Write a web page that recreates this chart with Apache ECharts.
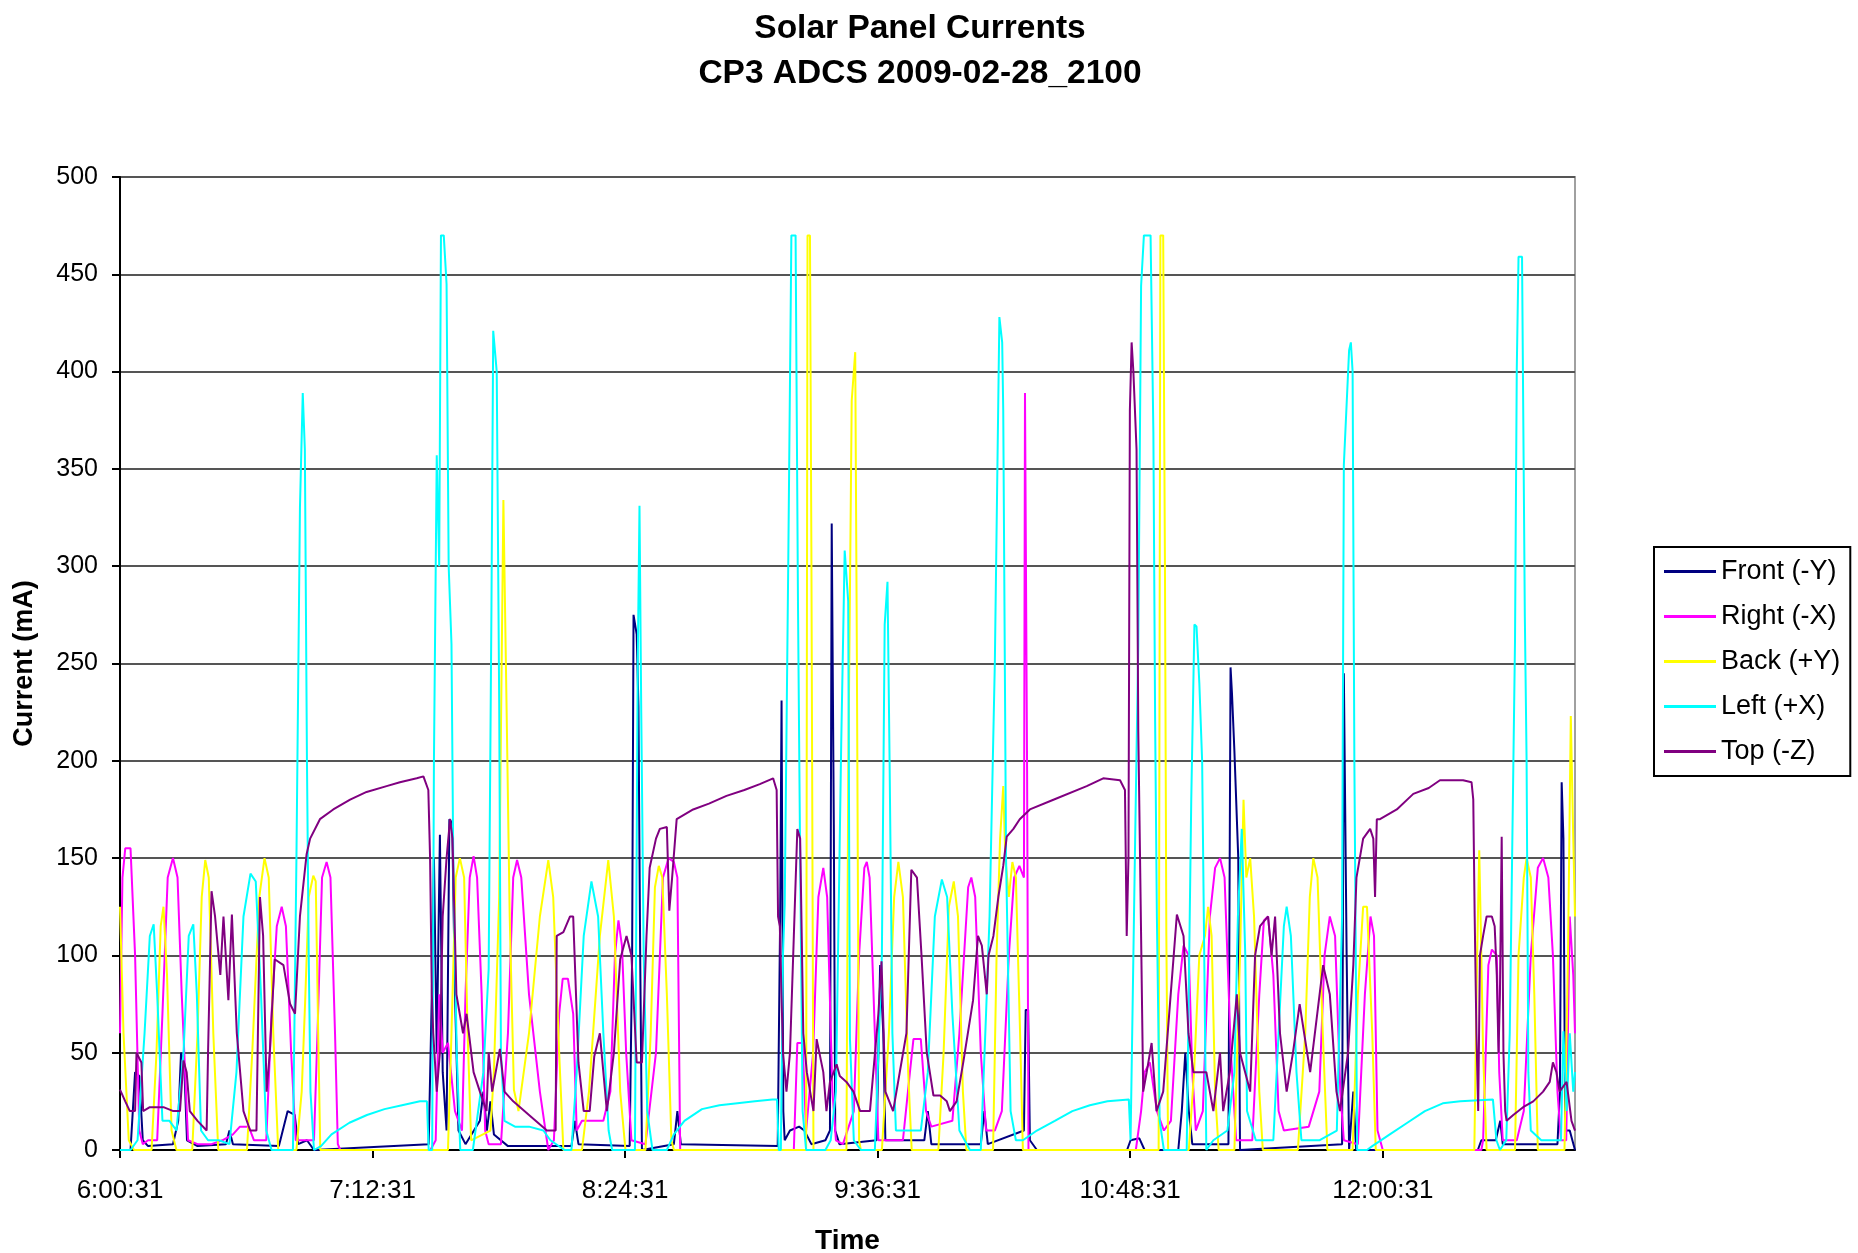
<!DOCTYPE html>
<html>
<head>
<meta charset="utf-8">
<title>Solar Panel Currents</title>
<script src="https://cdn.jsdelivr.net/npm/echarts@6/dist/echarts.min.js"></script>
<style>
  html, body { margin: 0; padding: 0; background: #fff; }
  #chart { width: 1858px; height: 1253px; }
</style>
</head>
<body>
<div id="chart"></div>
<script>
// x = minutes after 6:00:31, y = current (mA)
var timeLabels = ['6:00:31', '7:12:31', '8:24:31', '9:36:31', '10:48:31', '12:00:31'];
var seriesNames = ['Front (-Y)', 'Right (-X)', 'Back (+Y)', 'Left (+X)', 'Top (-Z)'];
var seriesColors = ['#000080', '#ff00ff', '#ffff00', '#00ffff', '#800080'];

var frontY = [
  [0,0],[3,0],[4.3,40],[5.5,38],[6.5,5],[8,2],[15.1,3],[16.6,15],[17.4,50],[18.3,44],[19.1,5],[22.1,2],[30.2,3],[31.2,10],
  [32.2,3],[45.3,2],[47.8,20],[49.8,18],[50.8,3],[53.3,5],[55.3,0],[88,3],[88.9,80],[89.5,150],[90.3,50],[91.2,162],[92,40],
  [93.1,10],[93.9,170],[94.7,168],[95.5,80],[96.5,10],[98.5,3],[102.6,15],[103.6,30],[104.6,10],[105.6,25],[106.6,8],
  [110.6,2],[128.7,2],[129.7,15],[130.7,3],[145.3,2],[146,100],[146.4,275],[147.3,265],[147.8,228],[148.3,100],[148.8,0],
  [157.9,3],[158.9,20],[159.9,3],[187.5,2],[188.2,120],[188.6,231],[189.1,20],[189.5,5],[191,10],[193.6,12],[195.1,10],
  [197.1,3],[201.1,5],[202.4,10],[202.9,322],[203.5,167],[203.9,10],[205.1,3],[215.7,5],[216.7,95],[217.6,60],[218.2,5],
  [229.3,5],[230.3,20],[231.3,3],[245.4,3],[246.4,20],[247.4,3],[257.7,10],[258.2,72],[258.9,72],[259.4,5],[261.4,0],
  [287.1,0],[288.1,5],[290.6,6],[292.1,0],[301.7,0],[302.7,20],[303.7,50],[304.7,20],[305.7,3],[316,3],[316.6,248],
  [317,235],[317.7,205],[318.8,150],[319.3,0],[348.4,3],[348.9,245],[349.7,100],[350.4,0],[351.6,30],[352.4,0],[387.1,0],
  [388.1,5],[392.2,5],[393.5,15],[394.2,3],[409.8,3],[410.5,30],[411,189],[411.5,160],[412,10],[413.3,10],[414.8,0]
];

var rightX = [
  [0,60],[0.7,140],[1.5,155],[3,155],[4.3,100],[5.5,10],[6.5,3],[8,5],[10.6,5],[12.1,70],[13.6,140],[15.1,150],[16.4,140],
  [17.6,80],[19.4,5],[22.1,3],[26.1,3],[29.2,5],[32.2,8],[34.2,12],[36.7,12],[38.2,5],[41.7,5],[43.2,70],[44.7,115],
  [46.1,125],[47.3,115],[48.8,50],[50.1,5],[55.3,5],[56.3,60],[57.6,140],[58.9,148],[60,140],[61.3,60],[62.1,3],[62.8,0],
  [88.5,0],[90,5],[91,80],[92,50],[93.5,55],[95.5,20],[97.5,10],[98.5,80],[99.7,140],[100.8,151],[101.8,140],[103.1,80],
  [104.1,10],[105.1,3],[108.6,3],[110.6,60],[112.1,140],[113.2,149],[114.4,140],[116.6,80],[119.7,30],[122.1,0],[123.7,5],
  [125.2,70],[126.2,88],[127.7,88],[129.2,70],[130.2,10],[131.7,15],[137.8,15],[139.8,30],[141.1,100],[142.1,118],
  [143.1,105],[144.3,50],[145.8,5],[149.8,3],[152.8,50],[154.8,140],[156.4,150],[157.9,148],[158.9,140],[159.7,0],
  [192.1,0],[193.1,55],[194.6,55],[195.6,10],[197.6,50],[199.1,130],[200.5,145],[201.6,130],[203.1,30],[204.1,5],
  [206.1,3],[209.2,20],[210.7,100],[212.2,145],[212.9,148],[213.7,140],[215.2,60],[216.2,5],[223.2,5],[225.2,40],
  [226.2,57],[228.3,57],[229.8,20],[231.3,12],[237.3,15],[239.3,60],[241.8,135],[242.7,140],[243.8,130],[245.4,50],
  [246.9,10],[249.4,10],[251.4,20],[253.4,100],[254.9,140],[256.4,146],[257.7,140],[258,389],[258.6,195],[259,0],
  [289.6,0],[291.1,20],[292.1,40],[293.6,45],[295.6,20],[297.6,10],[299.6,15],[301.7,80],[303.2,105],[304.7,100],
  [305.7,40],[306.7,10],[308.7,20],[310.7,120],[312.2,145],[313.6,150],[314.9,140],[316.7,50],[318.2,5],[322.8,5],
  [324.8,80],[326.1,118],[327.3,120],[328.8,90],[330.3,20],[331.8,10],[338.9,12],[341.9,30],[343.4,100],[344.9,120],
  [346.4,110],[347.9,30],[348.9,5],[352.9,3],[354.9,80],[356.5,120],[357.5,110],[358.5,10],[360,0],[388.1,0],[388.6,5],
  [390.1,95],[391.1,103],[392.5,100],[393.2,40],[394.2,5],[398.2,5],[400.2,20],[402.2,100],[404.2,145],[405.7,150],
  [407.2,140],[408.5,100],[409.8,30],[410.8,5],[412.3,5],[413.3,120],[414.3,90],[414.8,60]
];

var backY = [
  [0,125],[1,60],[2.5,5],[4,0],[9,0],[10.4,50],[11.6,115],[12.4,125],[13.4,90],[14.7,10],[16.1,0],[20.6,0],[22.1,60],
  [23.3,130],[24.3,149],[25.3,140],[26.6,60],[28,0],[36.2,0],[37.7,50],[39.7,130],[41.2,150],[42.4,140],[43.7,60],[45.1,0],
  [50.3,0],[51.8,30],[52.8,77],[53.8,130],[55.1,141],[55.8,138],[56.5,60],[57.1,0],[93.5,0],[94.5,60],[95.7,140],
  [96.9,150],[98.1,140],[99.1,60],[100.1,5],[105.6,10],[106.6,40],[108.1,130],[109.3,334],[110.2,228],[111.1,120],
  [112.3,31],[113.6,20],[116.6,60],[119.7,120],[122.1,149],[123.5,130],[125.2,50],[126.4,0],[131.7,0],[133.7,30],
  [136.8,110],[139.2,149],[140.8,120],[142.6,30],[144.1,0],[149.8,0],[151.3,60],[152.5,135],[153.6,146],[154.6,140],
  [155.9,80],[157.2,5],[157.9,0],[195.6,0],[196,470],[196.7,470],[197.1,310],[197.7,0],[207.1,0],[207.6,190],[208.6,385],
  [209.6,410],[210,280],[210.7,5],[211.2,0],[217.2,0],[219.2,60],[220.7,130],[221.9,148],[223.2,130],[224.7,40],
  [225.7,0],[233.3,0],[234.8,50],[236.3,125],[237.7,138],[238.9,120],[240.3,30],[241.3,0],[248.9,0],[249.9,100],
  [250.9,160],[251.8,187],[252.4,150],[253.4,130],[254.4,148],[255.4,140],[256.6,60],[257.4,0],[296.1,0],[296.6,470],
  [297.4,470],[297.9,300],[298.3,110],[298.8,0],[304.7,0],[306.2,40],[307.7,100],[309.3,110],[310.2,125],[311.2,110],
  [312.2,30],[313.2,0],[317.7,0],[319.3,100],[320.3,180],[321.1,140],[322.2,150],[323.3,120],[324.8,30],[325.8,0],
  [335.8,0],[337.9,60],[339.2,130],[340.2,150],[341.4,140],[342.9,60],[344.2,0],[351.4,0],[352.9,80],[354.4,125],
  [355.5,125],[357,60],[358,0],[386.1,0],[386.9,100],[387.5,154],[388.1,100],[388.6,50],[389.6,0],[397.7,0],[398.7,100],
  [400.2,140],[401,150],[402.2,140],[403.2,80],[404.2,0],[411.8,0],[412.8,100],[413.6,223],[414.3,160],[414.8,120]
];

var leftX = [
  [0,0],[3,0],[5,5],[7,60],[8.5,110],[9.6,116],[10.6,80],[12.1,15],[14.1,15],[16.1,10],[18.1,50],[19.6,110],[20.9,116],
  [21.9,80],[23.1,10],[25.1,5],[28.2,5],[31.2,3],[33.2,40],[35.2,120],[37.2,142],[38.7,138],[40.2,80],[41.7,10],[43.2,0],
  [49.3,0],[50.3,150],[51.3,330],[52.1,389],[52.7,360],[53.3,200],[53.8,100],[54.3,30],[55.3,0],[57.3,2],[60.3,8],
  [65.4,14],[70.4,18],[75.4,21],[80.4,23],[85.5,25],[87.5,25],[88,0],[89,0],[89.5,200],[90.3,357],[91,300],[91.5,470],
  [92.3,470],[93.1,445],[93.7,300],[94.5,260],[95,150],[96,50],[97,0],[100.6,0],[103.6,40],[105.1,93],[105.9,280],
  [106.4,421],[107.4,400],[108.1,230],[108.6,50],[109.6,15],[112.6,12],[116.6,12],[120.7,10],[122.7,5],[126.7,0],
  [128.7,0],[130.2,40],[132.2,110],[134.4,138],[136.3,120],[137.8,60],[139.3,10],[140.3,0],[146.8,0],[147.6,250],
  [148.1,331],[148.6,225],[149.3,100],[150.3,20],[151.8,0],[155.9,0],[157.9,8],[160.9,15],[165.9,21],[170.9,23],[176,24],
  [181,25],[186,26],[187.3,26],[187.8,0],[188.4,0],[189,100],[189.5,126],[190.5,300],[191.4,470],[192.6,470],[193.3,277],
  [193.9,150],[194.6,20],[195.6,0],[201.1,0],[202.6,5],[204.1,30],[205.6,208],[206.6,308],[207.6,282],[208.1,57],
  [209.2,5],[211.2,0],[215.2,0],[217.2,100],[218,270],[218.8,292],[219.4,200],[220.2,60],[221.2,10],[228.3,10],[230.3,40],
  [232.3,120],[234.3,139],[235.8,130],[237.3,70],[239.3,10],[242.3,0],[245.4,0],[246.9,70],[247.9,120],[249.4,250],
  [250.7,428],[251.5,415],[251.8,380],[252.6,150],[253.9,20],[255.4,5],[257.4,5],[261.4,10],[266.5,15],[271.5,20],
  [276.5,23],[281.5,25],[287.6,26],[288.1,5],[288.6,5],[289.4,159],[290.3,260],[291.1,444],[291.9,470],[293.8,470],
  [294.6,369],[295.1,220],[295.6,120],[296.4,15],[297.6,0],[304.1,0],[305.4,180],[306.3,270],[306.9,269],[307.7,240],
  [308.5,200],[309.7,0],[311.7,5],[315.7,10],[317.7,40],[318.7,120],[319.8,165],[320.8,100],[321.3,20],[323.8,5],
  [328.8,5],[330.3,60],[331.8,115],[332.6,125],[333.8,110],[335.4,40],[336.8,5],[341.9,5],[346.9,10],[348.4,120],
  [348.9,352],[350.4,411],[350.9,415],[351.4,400],[351.9,200],[352.7,0],[355.5,0],[357,2],[362,8],[367,14],[372,20],
  [377.1,24],[382.1,25],[391.4,26],[392.4,5],[393.4,0],[395.2,5],[396.2,60],[397.7,262],[398.2,401],[398.7,459],
  [399.7,459],[400.5,274],[401,200],[401.5,40],[402.2,10],[405.2,5],[410.8,5],[411.5,61],[412.4,20],[413.3,60],
  [414.3,30],[414.8,40]
];

var topZ = [
  [0,31],[1.5,25],[2.8,20],[4.3,20],[4.7,50],[6.1,45],[6.6,20],[8.5,22],[12.4,22],[15.2,20],[17.1,20],[18.1,46],[19,40],
  [19.9,20],[22.1,15],[24.7,10],[25.1,50],[26.1,133],[27.1,120],[28.6,90],[29.5,120],[30.9,77],[31.9,121],[33.3,60],
  [35.2,20],[37.1,10],[38.9,10],[39.9,130],[40.8,110],[41.8,30],[42.7,50],[44.1,98],[46.6,95],[48.5,75],[49.9,70],
  [51.3,120],[53.2,152],[54.2,160],[57,170],[60.8,175],[65.6,180],[70.3,184],[76,187],[79.8,189],[84.6,191],[86.5,192],
  [87.9,185],[88.4,150],[88.9,80],[89.3,60],[90.3,30],[91.2,50],[92,120],[93.1,150],[94.1,170],[94.8,160],[95.9,80],
  [97.8,60],[98.8,70],[100.8,40],[102.6,30],[104.5,20],[105.1,50],[106.1,30],[108.3,52],[109.6,30],[112.1,25],[116.6,18],
  [121.7,10],[124.2,10],[124.5,110],[126.4,112],[128.3,120],[129.2,120],[130.7,45],[132.2,20],[133.9,20],[135.2,48],
  [136.8,60],[138.8,20],[140.8,50],[142.6,98],[144.4,110],[145.8,100],[147.3,45],[148.8,45],[150.1,110],[151,145],
  [152.8,160],[153.9,165],[155.9,166],[156.6,123],[157.4,140],[158.7,170],[163.4,175],[167.9,178],[172.9,182],[178,185],
  [182.4,188],[186.2,191],[187.2,185],[187.6,120],[188.1,115],[189,50],[190,30],[191,50],[192.1,110],[193.1,165],
  [193.9,160],[194.8,60],[195.8,40],[197.7,20],[198.6,57],[200.5,40],[201.4,20],[202.4,35],[204.3,44],[205.2,38],
  [207.1,35],[209.1,30],[211,20],[213.8,20],[216.2,70],[217.1,97],[218.2,30],[220.4,20],[224.2,60],[225.6,144],[227.2,140],
  [228.5,100],[230,50],[231.9,28],[233.8,28],[235.7,25],[236.6,20],[238.5,25],[240.4,45],[243.2,77],[244.6,110],
  [245.7,105],[247.1,80],[247.6,100],[249,110],[250.4,130],[251.8,146],[252.8,161],[254.7,165],[256.5,170],[259.4,175],
  [266.1,180],[275.6,187],[280.3,191],[285.1,190],[286.5,185],[287,110],[287.5,150],[287.9,380],[288.4,415],[288.9,400],
  [289.8,360],[290.3,215],[290.8,150],[291.7,30],[292.7,40],[294.1,55],[295.5,20],[297.4,30],[301.3,121],[303.2,110],
  [304.6,60],[306,40],[309.7,40],[311.7,20],[313.6,50],[314.5,20],[316.4,40],[318.4,80],[319.3,50],[322.2,30],[323.6,100],
  [325,115],[327.3,120],[328.3,100],[329.3,120],[330.7,60],[332.6,30],[334.4,50],[336.3,75],[339.3,40],[343,95],[344.9,80],
  [346.8,30],[347.8,20],[350.1,50],[351.6,95],[352.5,140],[354.4,160],[356.4,165],[357.3,160],[357.8,130],[358.3,170],
  [359.2,170],[364,175],[368.7,183],[373.1,186],[376.3,190],[382.9,190],[385.3,189],[385.8,180],[386.2,120],[386.7,60],
  [387.2,20],[387.7,100],[388.6,110],[389.6,120],[391.1,120],[391.9,115],[392.5,90],[393,50],[393.4,80],[393.9,161],
  [394.4,50],[394.9,20],[395.3,15],[397.2,18],[400,22],[402.9,25],[405.7,30],[407.6,35],[408.5,45],[409.5,40],[410.4,30],
  [412.4,35],[413.8,15],[414.8,10]
];

var seriesData = [frontY, rightX, backY, leftX, topZ];
var FONT = '"Liberation Sans", Arial, sans-serif';

var chart = echarts.init(document.getElementById('chart'));
chart.setOption({
  animation: false,
  backgroundColor: '#fff',
  title: {
    text: 'Solar Panel Currents\nCP3 ADCS 2009-02-28_2100',
    left: 915,
    top: 1,
    textAlign: 'center',
    textStyle: { fontFamily: FONT, fontSize: 33.5, fontWeight: 'bold', color: '#000', lineHeight: 45 }
  },
  legend: {
    orient: 'vertical',
    left: 1654,
    top: 547,
    padding: [11, 10, 11, 10],
    itemGap: 18,
    itemWidth: 52,
    itemHeight: 3,
    icon: 'rect',
    borderColor: '#000',
    borderWidth: 2,
    textStyle: { fontFamily: FONT, fontSize: 27, color: '#000' },
    data: seriesNames
  },
  grid: {
    left: 120, right: 283, top: 177, bottom: 103,
    outerBoundsMode: 'none',
    show: true, borderColor: '#a0a0a0', borderWidth: 2
  },
  xAxis: {
    type: 'value',
    min: 0,
    max: 414.8,
    interval: 72,
    name: 'Time',
    nameLocation: 'middle',
    nameGap: 77,
    nameTextStyle: { fontFamily: FONT, fontSize: 28, fontWeight: 'bold', color: '#000' },
    axisLine: { lineStyle: { color: '#000', width: 2 } },
    axisTick: { length: 8, lineStyle: { color: '#000', width: 2 } },
    axisLabel: {
      margin: 28,
      showMaxLabel: false,
      fontFamily: FONT, fontSize: 26, color: '#000',
      formatter: function (v) { return timeLabels[Math.round(v / 72)] || ''; }
    },
    splitLine: { show: false }
  },
  yAxis: {
    type: 'value',
    min: 0,
    max: 500,
    interval: 50,
    name: 'Current (mA)',
    nameLocation: 'middle',
    nameGap: 82,
    nameTextStyle: { fontFamily: FONT, fontSize: 27, fontWeight: 'bold', color: '#000' },
    axisLine: { show: true, lineStyle: { color: '#000', width: 2 } },
    axisTick: { show: true, length: 8, lineStyle: { color: '#000', width: 2 } },
    axisLabel: { margin: 22, fontFamily: FONT, fontSize: 25, color: '#000' },
    splitLine: { lineStyle: { color: '#555', width: 2 } }
  },
  series: seriesNames.map(function (name, i) {
    return {
      name: name,
      type: 'line',
      data: seriesData[i],
      symbol: 'none',
      color: seriesColors[i],
      lineStyle: { width: 2, color: seriesColors[i] }
    };
  })
});
</script>
</body>
</html>
